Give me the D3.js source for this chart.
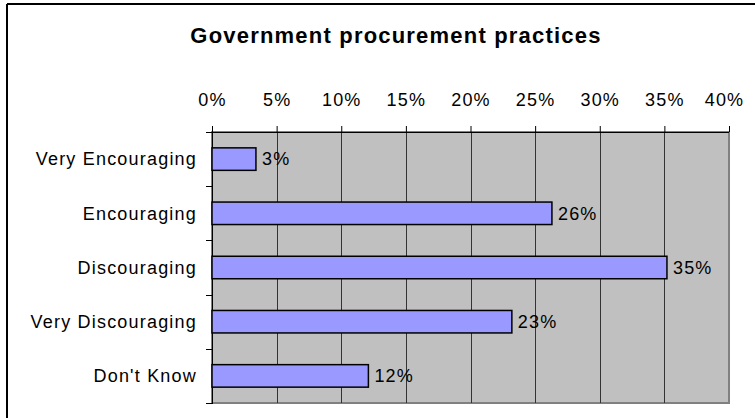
<!DOCTYPE html>
<html>
<head>
<meta charset="utf-8">
<script src="https://cdn.jsdelivr.net/npm/d3@7"></script>
<style>
  body { margin: 0; background: #fff; }
  text { font-family: Arial, "Liberation Sans", sans-serif; fill: #000; letter-spacing: 1.2px; }
</style>
</head>
<body>
<div id="chart"></div>
<script>
// data
var title = 'Government procurement practices'
var categories = ['Very Encouraging', 'Encouraging', 'Discouraging', 'Very Discouraging', "Don't Know"]
var values = [0.034, 0.263, 0.352, 0.232, 0.121]
var ticks = [0, 0.05, 0.10, 0.15, 0.20, 0.25, 0.30, 0.35, 0.40]

var W = 755, H = 418
var margin = {top: 132, right: 26, bottom: 15, left: 212}

var data = categories.map(function(c, i) { return {cat: c, val: values[i]} })

var svg = d3.select('#chart').append('svg')
    .attr('width', W)
    .attr('height', H)

// outer chart border (only top and left visible)
svg.append('line').attr('x1', 7).attr('x2', W).attr('y1', 4).attr('y2', 4)
    .attr('stroke', '#000').attr('stroke-width', 2)
svg.append('line').attr('x1', 7).attr('x2', 7).attr('y1', 4).attr('y2', H)
    .attr('stroke', '#000').attr('stroke-width', 2)

svg.append('text')
    .attr('x', 396)
    .attr('y', 43)
    .attr('text-anchor', 'middle')
    .style('font-size', '22px')
    .style('font-weight', 'bold')
    .text(title)

var x = d3.scaleLinear()
    .domain([0, 0.4])
    .range([margin.left, W - margin.right])

var y = d3.scaleBand()
    .domain(categories)
    .range([margin.top, H - margin.bottom])
    .paddingInner(0.585)
    .paddingOuter(0.585 / 2)

var plotTop = margin.top, plotBottom = H - margin.bottom

// plot area
svg.append('rect')
    .attr('x', x(0))
    .attr('y', plotTop)
    .attr('width', x(0.4) - x(0))
    .attr('height', plotBottom - plotTop)
    .attr('fill', '#C0C0C0')
    .attr('stroke', '#808080')
    .attr('stroke-width', 2)

// vertical gridlines
svg.selectAll('.grid')
    .data(ticks.slice(1, -1))
    .enter().append('line')
    .attr('class', 'grid')
    .attr('x1', d => Math.round(x(d)) + 0.5)
    .attr('x2', d => Math.round(x(d)) + 0.5)
    .attr('y1', plotTop)
    .attr('y2', plotBottom)
    .attr('stroke', '#333')

// top axis
var xAxis = d3.axisTop(x)
    .tickValues(ticks)
    .tickSize(6)
    .tickFormat(d3.format('.0%'))

svg.append('g')
    .attr('class', 'x-axis')
    .attr('transform', 'translate(0,' + plotTop + ')')
    .call(xAxis)
    .call(g => g.selectAll('.tick line').attr('stroke', '#000'))
    .call(g => g.select('.domain').attr('d', 'M' + (x(0) - 6) + ',0.5H' + x(0.4)).attr('stroke', '#000'))
    .call(g => g.selectAll('.tick text')
        .attr('y', -26)
        .style('font-size', '18px'))
    .call(g => g.selectAll('.tick:last-of-type text').attr('dx', '-5'))

// left axis: ticks at category boundaries
var step = y.step()
var bounds = d3.range(categories.length + 1).map(i => plotTop + i * step)

svg.selectAll('.ytick')
    .data(bounds)
    .enter().append('line')
    .attr('class', 'ytick')
    .attr('x1', x(0) - 6)
    .attr('x2', x(0))
    .attr('y1', d => Math.round(d) + 0.5)
    .attr('y2', d => Math.round(d) + 0.5)
    .attr('stroke', '#000')

svg.append('line')
    .attr('x1', x(0) + 0.5).attr('x2', x(0) + 0.5)
    .attr('y1', plotTop).attr('y2', plotBottom + 1)
    .attr('stroke', '#000')

svg.selectAll('.cat')
    .data(data)
    .enter().append('text')
    .attr('class', 'cat')
    .attr('x', x(0) - 15)
    .attr('y', d => y(d.cat) + y.bandwidth() / 2)
    .attr('dy', '0.35em')
    .attr('text-anchor', 'end')
    .style('font-size', '18px')
    .text(d => d.cat)

// bars
svg.selectAll('.bar')
    .data(data)
    .enter().append('rect')
    .attr('class', 'bar')
    .attr('x', x(0))
    .attr('y', d => y(d.cat))
    .attr('width', d => x(d.val) - x(0))
    .attr('height', y.bandwidth())
    .attr('fill', '#9999FF')
    .attr('stroke', '#000')
    .attr('stroke-width', 1.5)

svg.selectAll('.lbl')
    .data(data)
    .enter().append('text')
    .attr('class', 'lbl')
    .attr('x', d => x(d.val) + 6)
    .attr('y', d => y(d.cat) + y.bandwidth() / 2)
    .attr('dy', '0.35em')
    .style('font-size', '18px')
    .text(d => Math.round(d.val * 100) + '%')
</script>
</body>
</html>
